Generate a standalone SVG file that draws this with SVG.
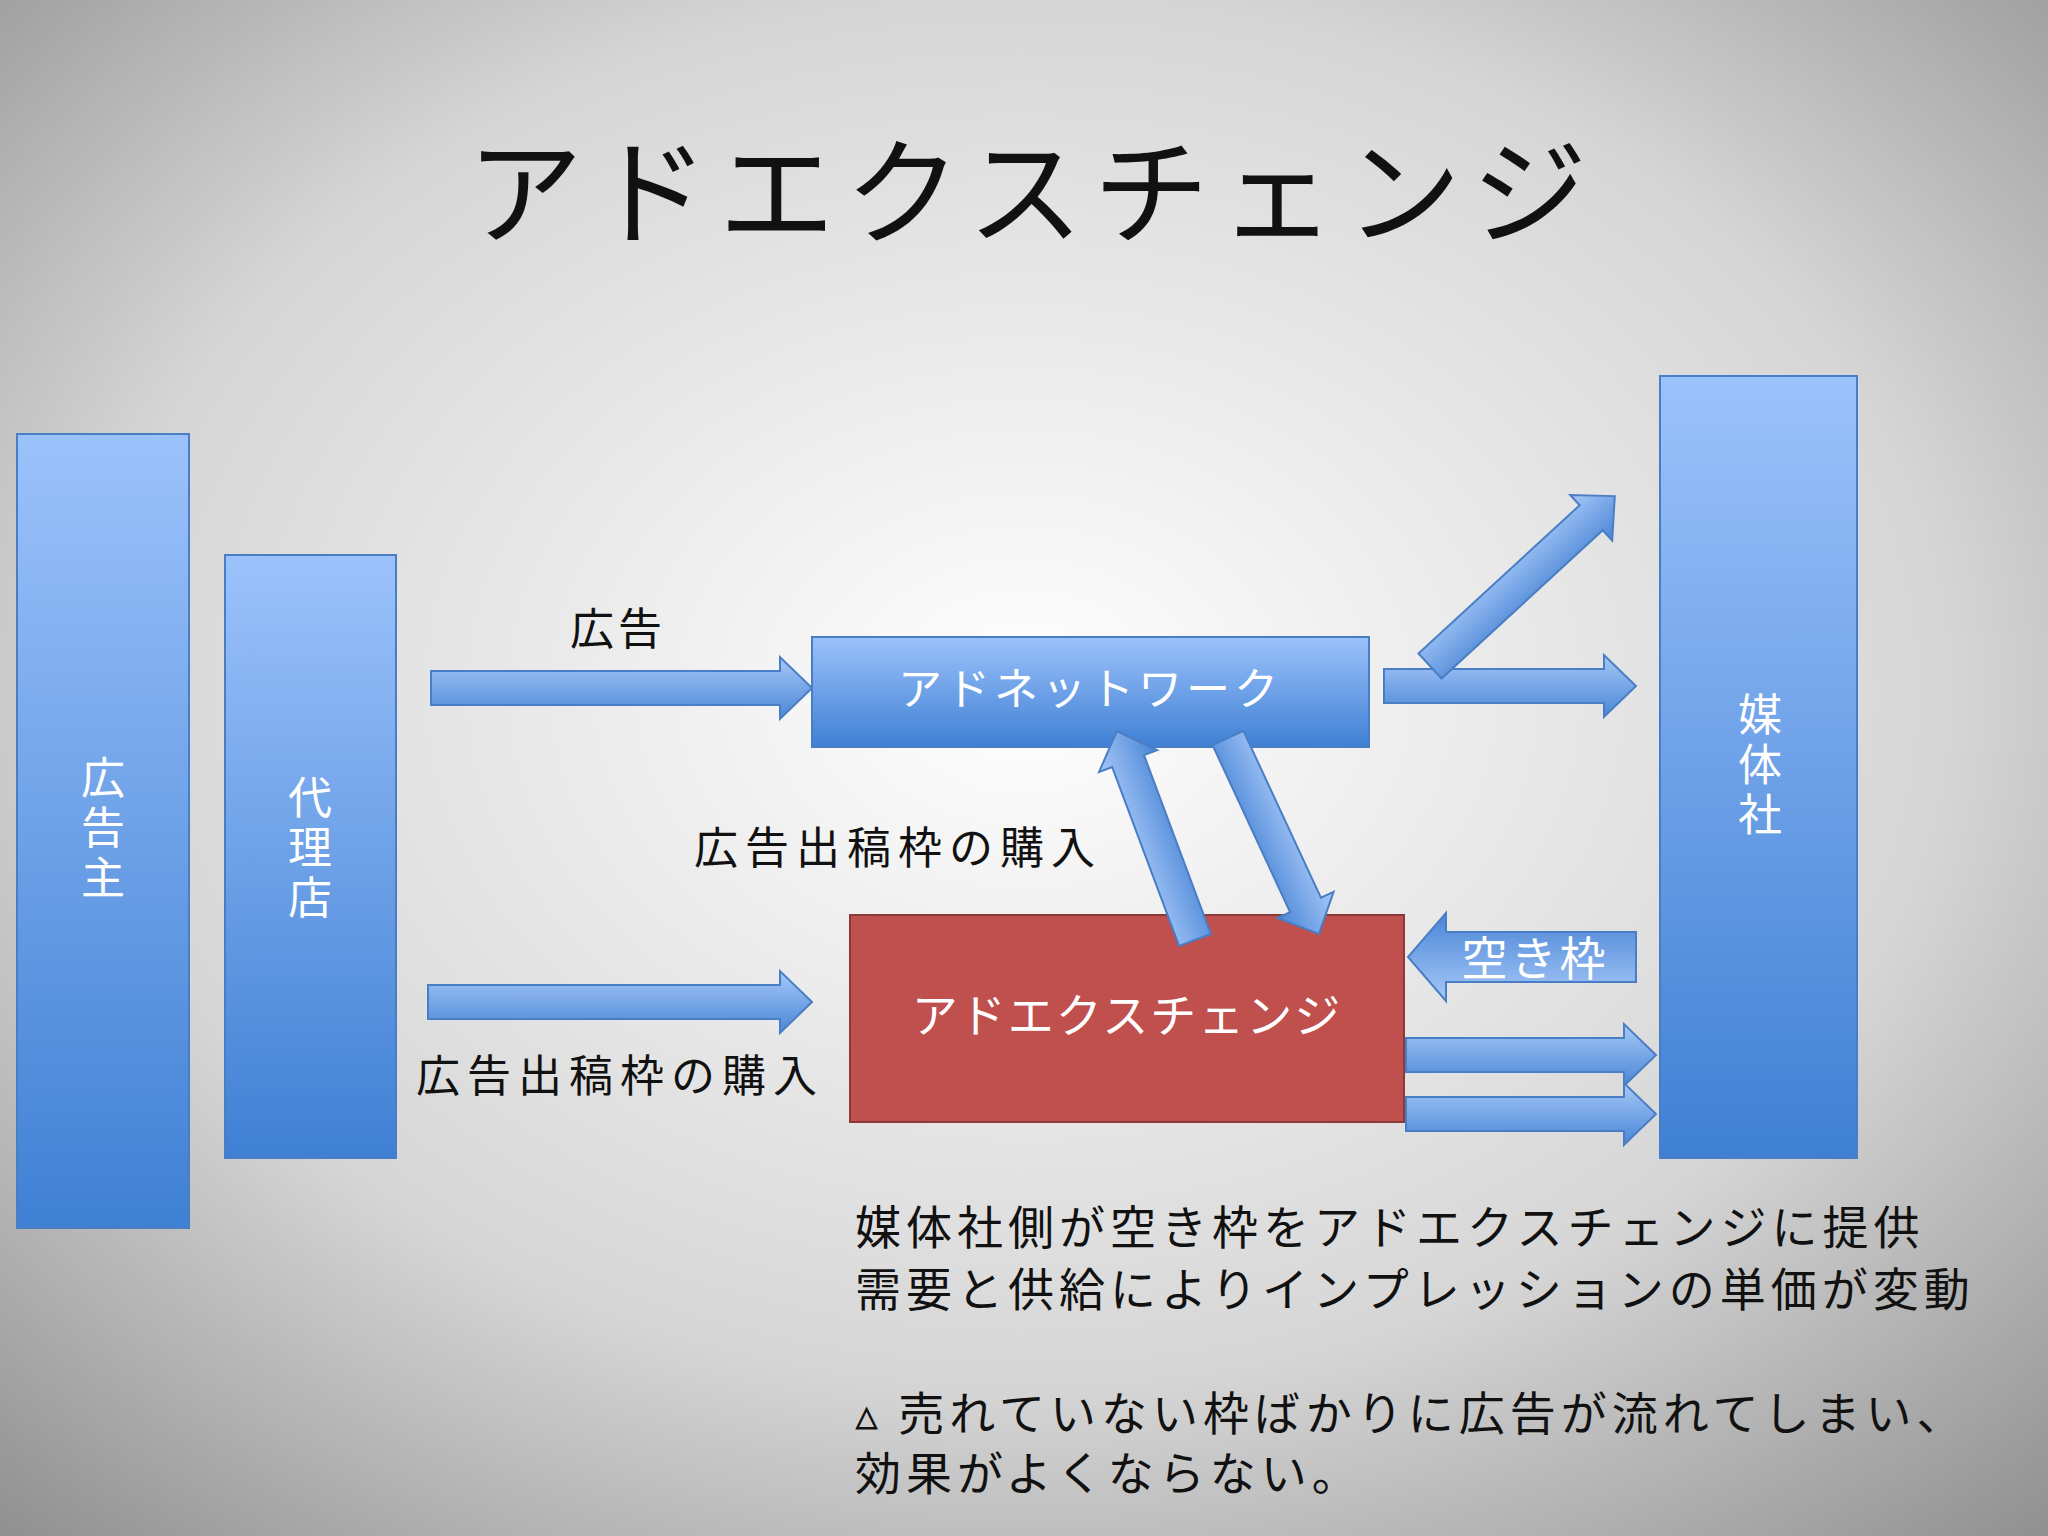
<svg xmlns="http://www.w3.org/2000/svg" width="2048" height="1536" viewBox="0 0 2048 1536">
<defs>
<radialGradient id="bg" cx="0.5" cy="0.45" r="0.75">
<stop offset="0" stop-color="#ffffff"/><stop offset="0.6" stop-color="#d6d6d6"/><stop offset="1" stop-color="#8e8e8e"/>
</radialGradient>
<linearGradient id="bl" x1="0" y1="0" x2="0" y2="1">
<stop offset="0" stop-color="#9cc2fb"/><stop offset="1" stop-color="#3f80d4"/>
</linearGradient>
<linearGradient id="ar" x1="0" y1="0" x2="0" y2="1">
<stop offset="0" stop-color="#a7c8f8"/><stop offset="1" stop-color="#4a86d6"/>
</linearGradient>
</defs>
<style>
.box{fill:url(#bl);stroke:#4a7ec4;stroke-width:2}
.arr{fill:url(#ar);stroke:#4a7ec4;stroke-width:2}
.w{fill:#fff;font-family:"Noto Sans CJK JP",sans-serif}
.k{fill:#111;font-family:"Noto Sans CJK JP",sans-serif}
.v{writing-mode:vertical-rl;text-anchor:middle;letter-spacing:6px}
</style>
<rect width="2048" height="1536" fill="url(#bg)"/>
<text class="k" x="1032" y="235" font-size="116" text-anchor="middle" letter-spacing="10">アドエクスチェンジ</text>

<g id="advertiser"><rect class="box" x="17" y="434" width="172" height="794"/>
<text class="w v" x="103" y="830" font-size="44">広告主</text></g>
<g id="agency"><rect class="box" x="225" y="555" width="171" height="603"/>
<text class="w v" x="310" y="850" font-size="44">代理店</text></g>
<g id="media"><rect class="box" x="1660" y="376" width="197" height="782"/>
<text class="w v" x="1760" y="767" font-size="44">媒体社</text></g>
<g id="adnetwork"><rect class="box" x="812" y="637" width="557" height="110"/>
<text class="w" x="1090" y="705" font-size="44" text-anchor="middle" letter-spacing="4">アドネットワーク</text></g>
<g id="adexchange"><rect x="850" y="915" width="554" height="207" fill="#c0504d" stroke="#8c3a38" stroke-width="2"/>
<text class="w" x="1127" y="1032" font-size="46" text-anchor="middle" letter-spacing="2">アドエクスチェンジ</text></g>

<g id="connectors">
<polygon class="arr" transform="translate(431,688)" points="0,-17 349,-17 349,-31 381,0 349,31 349,17 0,17"/>
<polygon class="arr" transform="translate(428,1002)" points="0,-17 352,-17 352,-31 384,0 352,31 352,17 0,17"/>
<polygon class="arr" transform="translate(1384,686)" points="0,-17 220,-17 220,-31 252,0 220,31 220,17 0,17"/>
<polygon class="arr" transform="translate(1430,666) rotate(-42.6)" points="0,-17 219,-17 219,-31 251,0 219,31 219,17 0,17"/>
<polygon class="arr" transform="translate(1195,940) rotate(-110.5)" points="0,-17 191,-17 191,-31 223,0 191,31 191,17 0,17"/>
<polygon class="arr" transform="translate(1228,738) rotate(65.1)" points="0,-17 184,-17 184,-31 216,0 184,31 184,17 0,17"/>
<polygon class="arr" transform="translate(1636,957) rotate(180)" points="0,-25 190,-25 190,-44 228,0 190,44 190,25 0,25"/>
<text class="w" x="1535" y="975" font-size="46" text-anchor="middle" letter-spacing="3">空き枠</text>
<polygon class="arr" transform="translate(1406,1055)" points="0,-17 218,-17 218,-31 250,0 218,31 218,17 0,17"/>
<polygon class="arr" transform="translate(1406,1114)" points="0,-17 218,-17 218,-31 250,0 218,31 218,17 0,17"/>
</g>

<text class="k" x="618" y="645" font-size="44" text-anchor="middle" letter-spacing="4">広告</text>
<text class="k" x="898" y="864" font-size="44" text-anchor="middle" letter-spacing="7">広告出稿枠の購入</text>
<text class="k" x="620" y="1092" font-size="44" text-anchor="middle" letter-spacing="7">広告出稿枠の購入</text>
<text class="k" font-size="46" letter-spacing="5"><tspan x="855" y="1244">媒体社側が空き枠をアドエクスチェンジに提供</tspan><tspan x="855" y="1306">需要と供給によりインプレッションの単価が変動</tspan><tspan x="855" y="1430">▵ 売れていない枠ばかりに広告が流れてしまい、</tspan><tspan x="855" y="1490">効果がよくならない。</tspan></text>
</svg>
